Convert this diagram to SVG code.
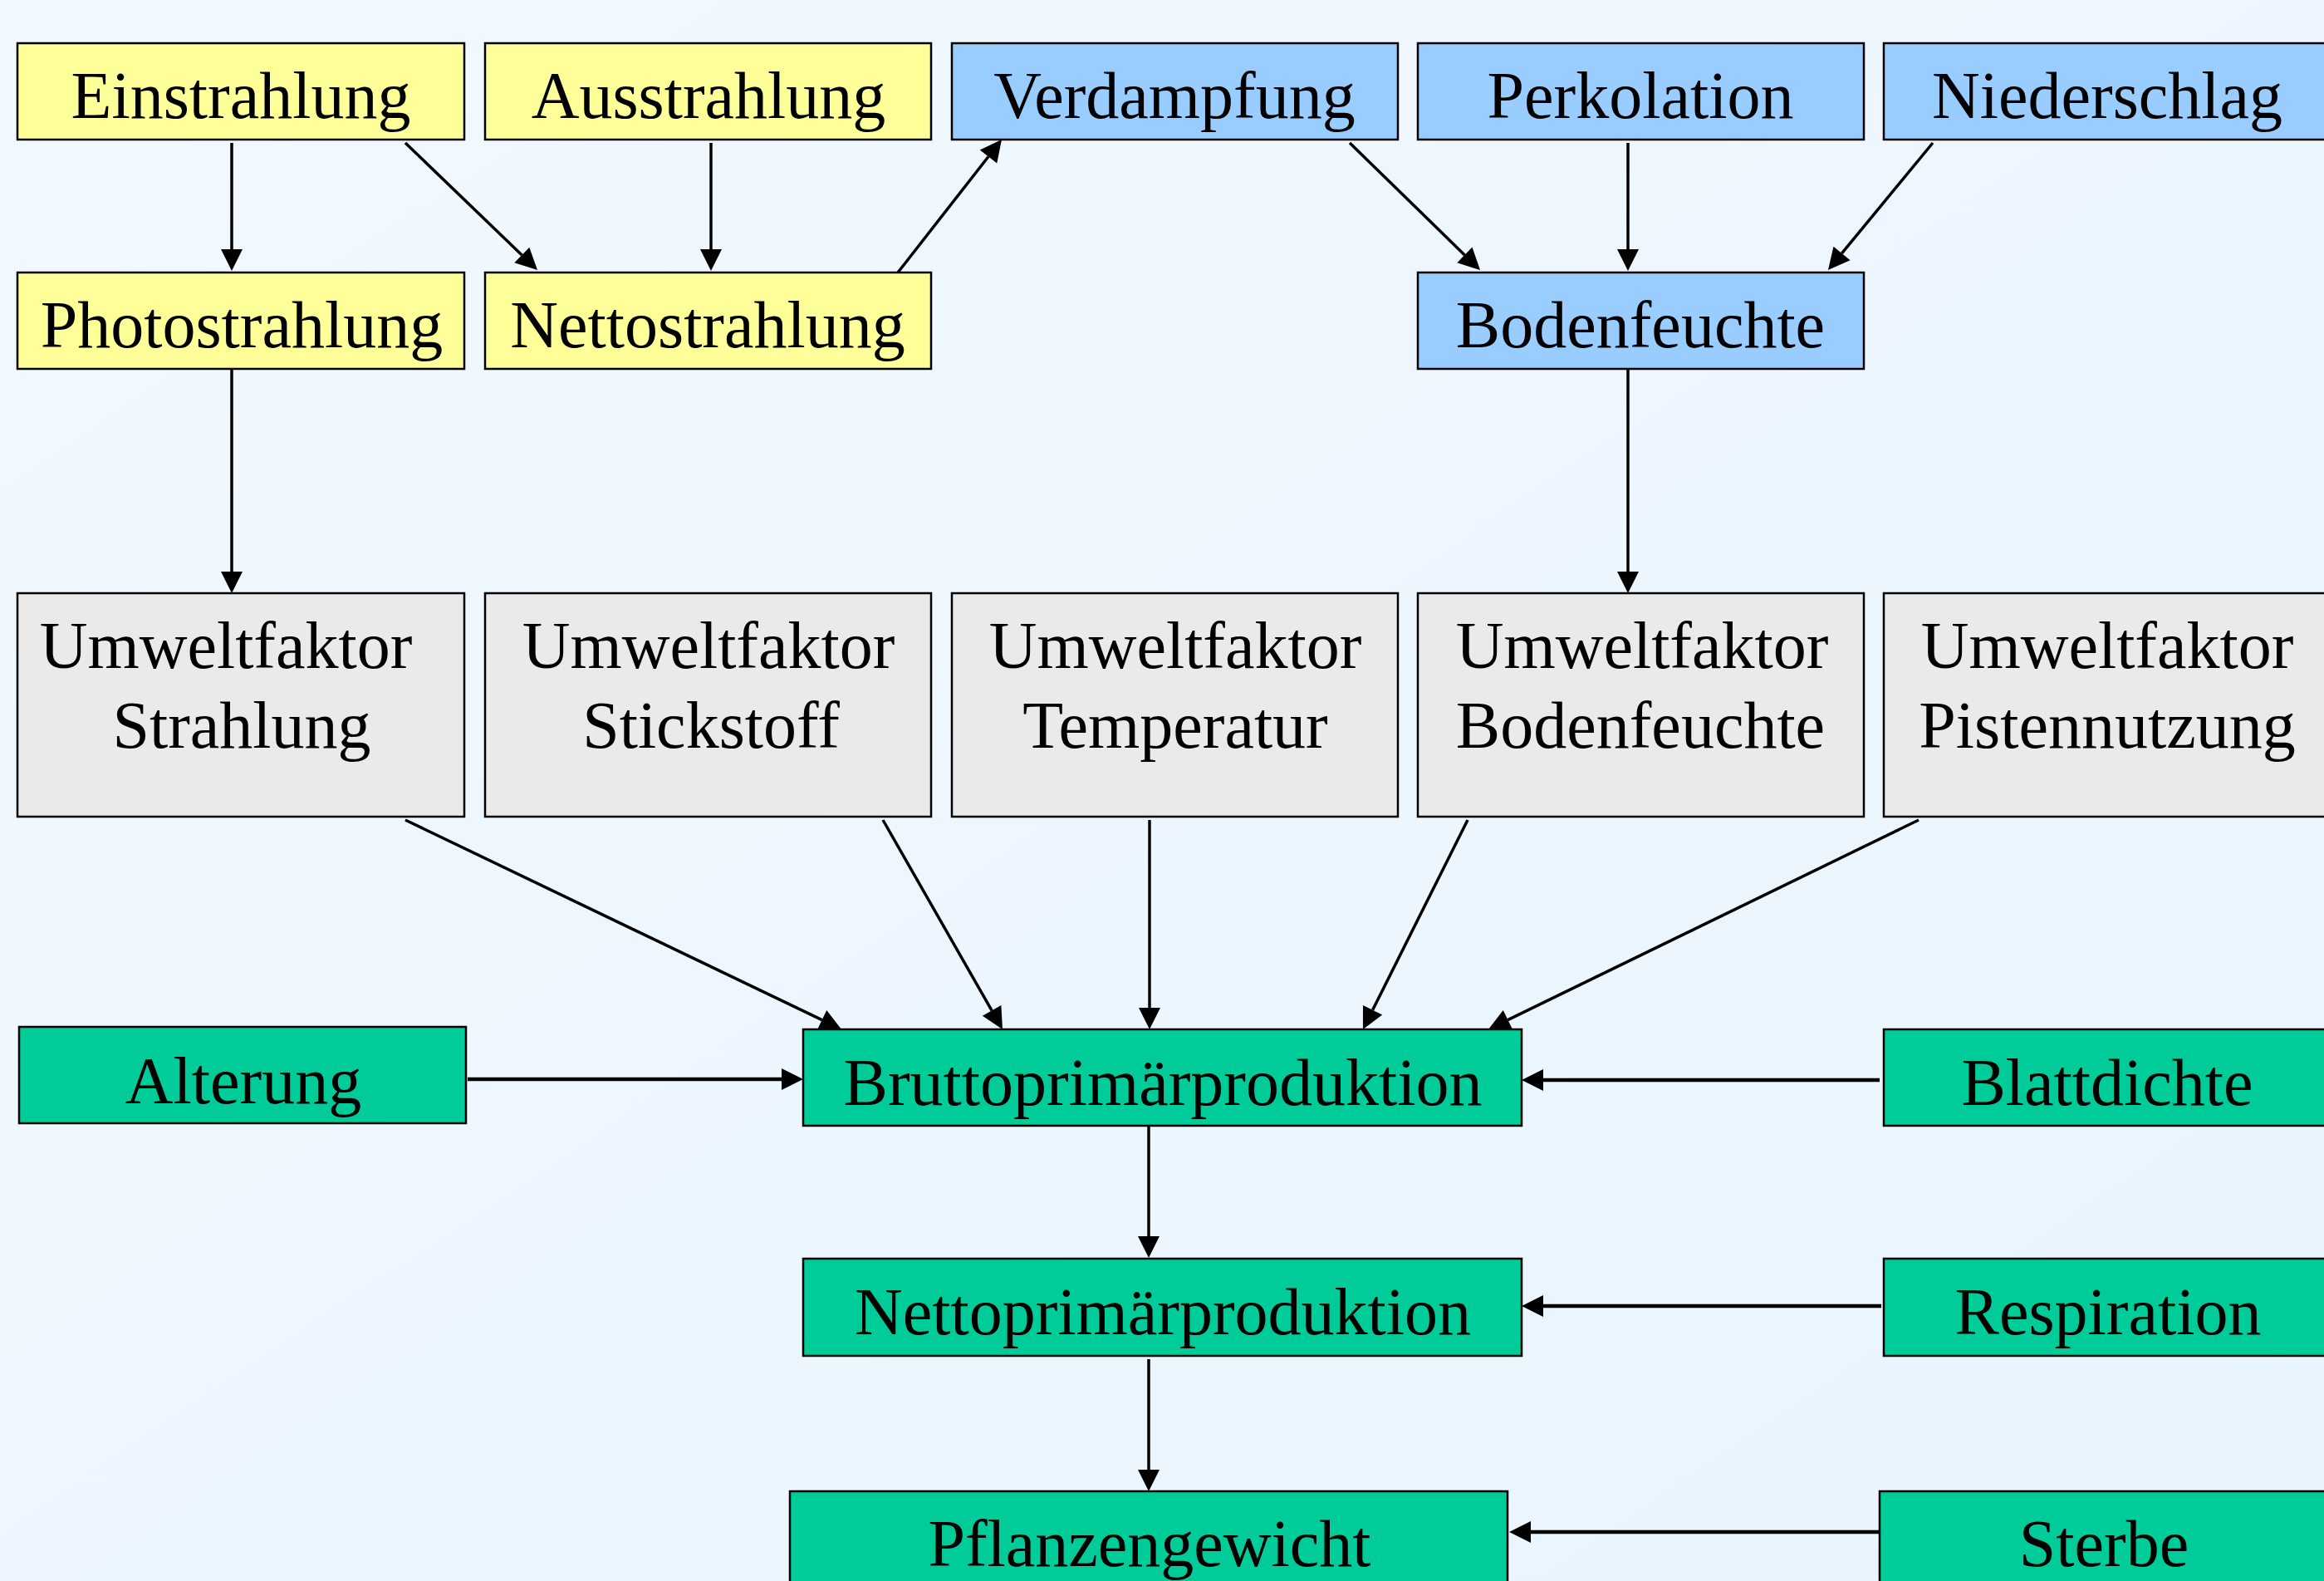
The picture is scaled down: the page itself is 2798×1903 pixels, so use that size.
<svg xmlns="http://www.w3.org/2000/svg" width="2798" height="1903" viewBox="0 0 2798 1903">
<defs>
<linearGradient id="bg" x1="0" y1="0" x2="1" y2="1">
<stop offset="0" stop-color="#F2F9FF"/>
<stop offset="1" stop-color="#E8F4FE"/>
</linearGradient>
<marker id="ah" markerUnits="userSpaceOnUse" markerWidth="26" markerHeight="26" refX="0" refY="13" orient="auto" overflow="visible">
<path d="M0,0 L26,13 L0,26 z" fill="#000"/>
</marker>
<style>
.box{stroke:#000;stroke-width:2.5}
.y{fill:#FFFF99}
.b{fill:#99CCFF}
.g{fill:#EAEAEA}
.n{fill:#00CC99}
text{font-family:"Liberation Serif","Times New Roman",serif;font-size:80px;fill:#000;text-anchor:middle}
.c line{stroke:#000;stroke-width:3.5;marker-end:url(#ah)}
.c line.t{stroke-width:4.5}
</style>
</defs>
<rect width="2798" height="1903" fill="url(#bg)"/>

<g id="einstrahlung"><rect class="box y" x="21" y="52" width="538" height="116"/><text x="290" y="142">Einstrahlung</text></g>
<g id="ausstrahlung"><rect class="box y" x="584" y="52" width="537" height="116"/><text x="853" y="142">Ausstrahlung</text></g>
<g id="verdampfung"><rect class="box b" x="1146" y="52" width="537" height="116"/><text x="1414" y="142">Verdampfung</text></g>
<g id="perkolation"><rect class="box b" x="1707" y="52" width="537" height="116"/><text x="1975" y="142">Perkolation</text></g>
<g id="niederschlag"><rect class="box b" x="2268" y="52" width="545" height="116"/><text x="2537" y="142">Niederschlag</text></g>

<g id="photostrahlung"><rect class="box y" x="21" y="328" width="538" height="116"/><text x="291" y="418">Photostrahlung</text></g>
<g id="nettostrahlung"><rect class="box y" x="584" y="328" width="537" height="116"/><text x="852" y="418">Nettostrahlung</text></g>
<g id="bodenfeuchte"><rect class="box b" x="1707" y="328" width="537" height="116"/><text x="1975" y="418">Bodenfeuchte</text></g>

<g id="uf-strahlung"><rect class="box g" x="21" y="714" width="538" height="269"/><text x="272" y="804">Umweltfaktor</text><text x="291" y="900">Strahlung</text></g>
<g id="uf-stickstoff"><rect class="box g" x="584" y="714" width="537" height="269"/><text x="853" y="804">Umweltfaktor</text><text x="856" y="900">Stickstoff</text></g>
<g id="uf-temperatur"><rect class="box g" x="1146" y="714" width="537" height="269"/><text x="1415" y="804">Umweltfaktor</text><text x="1415" y="900">Temperatur</text></g>
<g id="uf-bodenfeuchte"><rect class="box g" x="1707" y="714" width="537" height="269"/><text x="1977" y="804">Umweltfaktor</text><text x="1975" y="900">Bodenfeuchte</text></g>
<g id="uf-pistennutzung"><rect class="box g" x="2268" y="714" width="545" height="269"/><text x="2537" y="804">Umweltfaktor</text><text x="2537" y="900">Pistennutzung</text></g>

<g id="alterung"><rect class="box n" x="23" y="1236" width="538" height="116"/><text x="293" y="1328">Alterung</text></g>
<g id="bruttoprimaerproduktion"><rect class="box n" x="967" y="1239" width="865" height="116"/><text x="1400" y="1330">Bruttoprimärproduktion</text></g>
<g id="blattdichte"><rect class="box n" x="2268" y="1239" width="545" height="116"/><text x="2537" y="1330">Blattdichte</text></g>

<g id="nettoprimaerproduktion"><rect class="box n" x="967" y="1515" width="865" height="117"/><text x="1400" y="1606">Nettoprimärproduktion</text></g>
<g id="respiration"><rect class="box n" x="2268" y="1515" width="545" height="117"/><text x="2538" y="1606">Respiration</text></g>

<g id="pflanzengewicht"><rect class="box n" x="951" y="1795" width="864" height="130"/><text x="1384" y="1885">Pflanzengewicht</text></g>
<g id="sterbe"><rect class="box n" x="2263" y="1795" width="550" height="130"/><text x="2533" y="1885">Sterbe</text></g>

<g id="connectors" class="c">
<line x1="279" y1="172" x2="279" y2="300"/>
<line x1="488" y1="172" x2="628.3" y2="307"/>
<line x1="856" y1="172" x2="856" y2="300"/>
<line x1="1081" y1="328" x2="1190" y2="188.5"/>
<line x1="1625" y1="172" x2="1763.4" y2="306.9"/>
<line x1="1960" y1="172" x2="1960" y2="300"/>
<line x1="2327" y1="172" x2="2217.5" y2="304.9"/>
<line x1="279" y1="444" x2="279" y2="688"/>
<line x1="1960" y1="444" x2="1960" y2="688"/>
<line x1="488" y1="987" x2="989.6" y2="1227.7"/>
<line x1="1063" y1="987" x2="1194.1" y2="1216.4"/>
<line x1="1384" y1="987" x2="1384" y2="1213"/>
<line x1="1767" y1="987" x2="1652.6" y2="1215.7"/>
<line x1="2310" y1="987" x2="1815.4" y2="1227.6"/>
<line class="t" x1="563" y1="1299" x2="941" y2="1299"/>
<line class="t" x1="2263" y1="1300" x2="1858" y2="1300"/>
<line x1="1383" y1="1355" x2="1383" y2="1488"/>
<line x1="1383" y1="1636" x2="1383" y2="1769"/>
<line class="t" x1="2265" y1="1572" x2="1858" y2="1572"/>
<line class="t" x1="2263" y1="1844" x2="1843" y2="1844"/>
</g>
</svg>
